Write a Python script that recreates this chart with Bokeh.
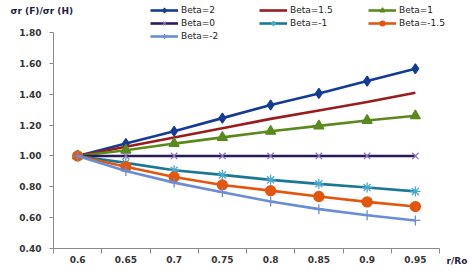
from bokeh.plotting import figure
from bokeh.models import Legend, LegendItem, FixedTicker, NumeralTickFormatter, Range1d, Label
from bokeh.embed import file_html
from bokeh.resources import INLINE

r_ro = [0.6, 0.65, 0.7, 0.75, 0.8, 0.85, 0.9, 0.95]
x_tick_labels = ["0.6", "0.65", "0.7", "0.75", "0.8", "0.85", "0.9", "0.95"]
y_ticks = [0.4, 0.6, 0.8, 1.0, 1.2, 1.4, 1.6, 1.8]

beta_2 = [1.00, 1.08, 1.16, 1.245, 1.33, 1.405, 1.485, 1.565]
beta_1_5 = [1.00, 1.06, 1.12, 1.18, 1.24, 1.295, 1.35, 1.41]
beta_1 = [1.00, 1.037, 1.08, 1.12, 1.16, 1.195, 1.23, 1.26]
beta_0 = [1.00, 1.00, 1.00, 1.00, 1.00, 1.00, 1.00, 1.00]
beta_m1 = [1.00, 0.955, 0.907, 0.877, 0.845, 0.819, 0.795, 0.77]
beta_m1_5 = [1.00, 0.93, 0.864, 0.812, 0.775, 0.737, 0.702, 0.672]
beta_m2 = [1.00, 0.903, 0.827, 0.765, 0.705, 0.655, 0.616, 0.582]

series_names = ["Beta=2", "Beta=1.5", "Beta=1", "Beta=0", "Beta=-1", "Beta=-1.5", "Beta=-2"]

W, H = 470, 271
# plot box in pixels: x axis from px 53 to 439 (0.575..0.975), y axis from px 248 to 32 (0.4..1.8)
X0, X1, XA, XB = 53, 439, 0.575, 0.975
YB, YT, YA, YBV = 248, 32, 0.4, 1.8
xs = (XB - XA) / (X1 - X0)
ys = (YBV - YA) / (YB - YT)
x_range = Range1d(XA - X0 * xs, XB + (W - X1) * xs)
y_range = Range1d(YA - (H - YB) * ys, YBV + YT * ys)

p = figure(width=W, height=H, output_backend="svg", toolbar_location=None,
           x_range=x_range, y_range=y_range,
           min_border_left=0, min_border_right=0, min_border_top=0, min_border_bottom=0)
p.outline_line_color = None
p.grid.visible = False
p.background_fill_color = "white"
p.border_fill_color = "white"

axis_color = "#8a8a8a"
label_color = "#333333"
font = "DejaVu Sans"

# x axis
p.xaxis.fixed_location = YA
p.xaxis.bounds = (XA, XB)
p.xaxis.ticker = FixedTicker(ticks=r_ro, minor_ticks=[XA + 0.05 * i for i in range(9)])
p.xaxis.major_label_overrides = {v: s for v, s in zip(r_ro, x_tick_labels)}
p.xaxis.major_tick_line_color = None
p.xaxis.major_tick_out = 0
p.xaxis.major_tick_in = 0
p.xaxis.minor_tick_out = 5
p.xaxis.minor_tick_in = 0
p.xaxis.minor_tick_line_color = axis_color
p.xaxis.major_label_standoff = 2
# y axis
p.yaxis.fixed_location = XA
p.yaxis.bounds = (YA, YBV)
p.yaxis.ticker = FixedTicker(ticks=y_ticks)
p.yaxis.formatter = NumeralTickFormatter(format="0.00")
p.yaxis.major_tick_out = 4
p.yaxis.major_tick_in = 0
p.yaxis.minor_tick_line_color = None
p.yaxis.major_tick_line_color = axis_color
p.yaxis.major_label_standoff = 8
for ax in (p.xaxis, p.yaxis):
    ax.axis_line_color = axis_color
    ax.major_label_text_font = font
    ax.major_label_text_font_style = "bold"
    ax.major_label_text_font_size = "9px"
    ax.major_label_text_color = label_color

styles = [
    (beta_2, "#143c94", "diamond", "#143c94", 10),
    (beta_1_5, "#9a1c1c", None, None, 0),
    (beta_1, "#5a8a1c", "triangle", "#5a8a1c", 10),
    (beta_0, "#2c1a5a", "x", "#8c70b8", 9),
    (beta_m1, "#1a7896", "asterisk", "#45acd0", 10),
    (beta_m1_5, "#e2560e", "circle", "#e2560e", 10),
    (beta_m2, "#6a8ed6", "cross", "#6a8ed6", 10),
]

items = []
for name, (vals, lc, mk, mc, ms) in zip(series_names, styles):
    rs = [p.line(r_ro, vals, line_color=lc, line_width=2.6)]
    if mk is not None:
        rs.append(p.scatter(r_ro, vals, marker=mk, size=ms, line_color=mc, fill_color=mc,
                            line_width=1.3))
    items.append(LegendItem(label=name, renderers=rs))

legend = Legend(items=items, location=(150, H - 42), orientation="horizontal", ncols=3,
                glyph_width=28, glyph_height=12, label_height=12, label_width=77,
                label_standoff=3, spacing=1, padding=0, margin=0,
                border_line_color=None, background_fill_alpha=0,
                label_text_font=font, label_text_font_size="9px", label_text_color="#222222")
p.add_layout(legend, "center")

p.add_layout(Label(x=10, y=H - 10, x_units="screen", y_units="screen", text="σr (F)/σr (H)",
                   text_font=font, text_font_style="bold", text_font_size="9px",
                   text_color="#1e1e3c", text_baseline="middle", text_align="left"))
p.add_layout(Label(x=446, y=H - 260, x_units="screen", y_units="screen", text="r/Ro",
                   text_font=font, text_font_style="bold", text_font_size="9px",
                   text_color="#1e1e3c", text_baseline="middle", text_align="left"))

open("out.html", "w").write(file_html(p, INLINE))
